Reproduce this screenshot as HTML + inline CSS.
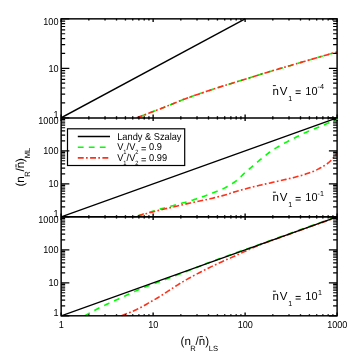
<!DOCTYPE html><html><head><meta charset="utf-8"><style>html,body{margin:0;padding:0;background:#fff}svg{display:block;will-change:transform;text-rendering:geometricPrecision}</style></head><body><svg width="355" height="355" viewBox="0 0 355 355" font-family="'Liberation Sans', sans-serif" fill="#000">
<rect x="0" y="0" width="355" height="355" fill="#fff"/>
<defs>
<clipPath id="c0"><rect x="61.15" y="18.05" width="275.95000000000005" height="100.55"/></clipPath>
<clipPath id="c1"><rect x="61.15" y="117.0" width="275.95000000000005" height="100.60000000000002"/></clipPath>
<clipPath id="c2"><rect x="61.15" y="216.0" width="275.95000000000005" height="100.60000000000002"/></clipPath>
</defs>
<path d="M136.80,117.70 L137.27,117.53 L137.82,117.33 L138.46,117.10 L139.17,116.85 L139.95,116.57 L140.79,116.26 L141.70,115.93 L142.66,115.59 L143.66,115.22 L144.71,114.83 L145.79,114.42 L146.90,114.00 L148.06,113.56 L149.27,113.09 L150.55,112.60 L151.87,112.09 L153.24,111.55 L154.66,111.00 L156.11,110.43 L157.60,109.85 L159.11,109.25 L160.66,108.64 L162.22,108.03 L163.80,107.40 L165.42,106.75 L167.10,106.08 L168.83,105.37 L170.59,104.65 L172.39,103.92 L174.21,103.18 L176.03,102.43 L177.86,101.69 L179.68,100.96 L181.49,100.25 L183.26,99.56 L185.00,98.90 L186.71,98.26 L188.40,97.64 L190.07,97.04 L191.73,96.44 L193.39,95.86 L195.04,95.29 L196.68,94.72 L198.33,94.16 L199.99,93.59 L201.65,93.03 L203.32,92.47 L205.00,91.90 L206.70,91.33 L208.41,90.76 L210.14,90.19 L211.87,89.62 L213.60,89.05 L215.34,88.49 L217.07,87.93 L218.80,87.37 L220.52,86.82 L222.23,86.27 L223.92,85.73 L225.60,85.20 L227.26,84.68 L228.90,84.16 L230.52,83.66 L232.13,83.16 L233.74,82.66 L235.34,82.17 L236.93,81.68 L238.53,81.19 L240.14,80.70 L241.75,80.20 L243.37,79.70 L245.00,79.20 L246.63,78.69 L248.23,78.19 L249.82,77.70 L251.41,77.20 L253.00,76.70 L254.60,76.20 L256.23,75.69 L257.88,75.18 L259.58,74.65 L261.32,74.12 L263.13,73.57 L265.00,73.00 L266.95,72.41 L268.98,71.81 L271.08,71.19 L273.23,70.55 L275.42,69.91 L277.64,69.26 L279.87,68.60 L282.10,67.95 L284.33,67.30 L286.53,66.65 L288.69,66.02 L290.80,65.40 L292.88,64.79 L294.95,64.18 L297.01,63.57 L299.06,62.97 L301.10,62.37 L303.13,61.78 L305.14,61.18 L307.14,60.60 L309.13,60.01 L311.10,59.44 L313.06,58.87 L315.00,58.30 L316.99,57.72 L319.07,57.12 L321.21,56.50 L323.37,55.88 L325.52,55.26 L327.61,54.66 L329.63,54.08 L331.52,53.53 L333.26,53.03 L334.81,52.59 L336.13,52.21 L337.20,51.90" fill="none" stroke="#00ff00" stroke-width="1.6" stroke-dasharray="5.4 4.95" stroke-dashoffset="6.0" clip-path="url(#c0)"/>
<path d="M136.80,117.70 L137.27,117.53 L137.82,117.33 L138.46,117.10 L139.17,116.85 L139.95,116.57 L140.79,116.26 L141.70,115.93 L142.66,115.59 L143.66,115.22 L144.71,114.83 L145.79,114.42 L146.90,114.00 L148.06,113.56 L149.27,113.09 L150.55,112.60 L151.87,112.09 L153.24,111.55 L154.66,111.00 L156.11,110.43 L157.60,109.85 L159.11,109.25 L160.66,108.64 L162.22,108.03 L163.80,107.40 L165.42,106.75 L167.10,106.08 L168.83,105.37 L170.59,104.65 L172.39,103.92 L174.21,103.18 L176.03,102.43 L177.86,101.69 L179.68,100.96 L181.49,100.25 L183.26,99.56 L185.00,98.90 L186.71,98.26 L188.40,97.64 L190.07,97.04 L191.73,96.44 L193.39,95.86 L195.04,95.29 L196.68,94.72 L198.33,94.16 L199.99,93.59 L201.65,93.03 L203.32,92.47 L205.00,91.90 L206.70,91.33 L208.41,90.76 L210.14,90.19 L211.87,89.62 L213.60,89.05 L215.34,88.49 L217.07,87.93 L218.80,87.37 L220.52,86.82 L222.23,86.27 L223.92,85.73 L225.60,85.20 L227.26,84.68 L228.90,84.16 L230.52,83.66 L232.13,83.16 L233.74,82.66 L235.34,82.17 L236.93,81.68 L238.53,81.19 L240.14,80.70 L241.75,80.20 L243.37,79.70 L245.00,79.20 L246.63,78.69 L248.23,78.19 L249.82,77.70 L251.41,77.20 L253.00,76.70 L254.60,76.20 L256.23,75.69 L257.88,75.18 L259.58,74.65 L261.32,74.12 L263.13,73.57 L265.00,73.00 L266.95,72.41 L268.98,71.81 L271.08,71.19 L273.23,70.55 L275.42,69.91 L277.64,69.26 L279.87,68.60 L282.10,67.95 L284.33,67.30 L286.53,66.65 L288.69,66.02 L290.80,65.40 L292.88,64.79 L294.95,64.18 L297.01,63.57 L299.06,62.97 L301.10,62.37 L303.13,61.78 L305.14,61.18 L307.14,60.60 L309.13,60.01 L311.10,59.44 L313.06,58.87 L315.00,58.30 L316.99,57.72 L319.07,57.12 L321.21,56.50 L323.37,55.88 L325.52,55.26 L327.61,54.66 L329.63,54.08 L331.52,53.53 L333.26,53.03 L334.81,52.59 L336.13,52.21 L337.20,51.90" fill="none" stroke="#ff3018" stroke-width="1.6" stroke-dasharray="5.9 2.3 1.7 2.4" stroke-dashoffset="0" clip-path="url(#c0)"/>
<path d="M61.15,117.80 L245.12,18.85" fill="none" stroke="#000" stroke-width="1.35" clip-path="url(#c0)"/>
<path d="M134.30,216.80 L135.48,216.45 L136.95,216.00 L138.66,215.48 L140.59,214.90 L142.69,214.27 L144.91,213.59 L147.23,212.90 L149.60,212.19 L151.98,211.48 L154.33,210.79 L156.62,210.12 L158.80,209.50 L160.98,208.89 L163.26,208.26 L165.61,207.62 L168.01,206.97 L170.42,206.32 L172.81,205.69 L175.15,205.06 L177.40,204.46 L179.55,203.89 L181.55,203.35 L183.38,202.85 L185.00,202.40 L186.38,202.01 L187.55,201.68 L188.52,201.40 L189.35,201.15 L190.06,200.94 L190.70,200.74 L191.30,200.55 L191.90,200.35 L192.53,200.14 L193.23,199.90 L194.04,199.62 L195.00,199.30 L196.07,198.94 L197.21,198.55 L198.40,198.15 L199.63,197.73 L200.90,197.29 L202.19,196.84 L203.50,196.38 L204.81,195.91 L206.13,195.44 L207.44,194.96 L208.73,194.48 L210.00,194.00 L211.26,193.52 L212.54,193.03 L213.82,192.54 L215.12,192.04 L216.41,191.54 L217.70,191.03 L218.98,190.51 L220.24,189.99 L221.47,189.46 L222.69,188.91 L223.86,188.36 L225.00,187.80 L226.11,187.22 L227.20,186.63 L228.28,186.03 L229.33,185.41 L230.37,184.78 L231.37,184.15 L232.36,183.52 L233.31,182.88 L234.23,182.25 L235.12,181.62 L235.98,181.01 L236.80,180.40 L237.57,179.81 L238.27,179.22 L238.92,178.64 L239.53,178.07 L240.11,177.50 L240.67,176.93 L241.22,176.35 L241.77,175.78 L242.33,175.20 L242.92,174.61 L243.54,174.01 L244.20,173.40 L244.90,172.78 L245.62,172.15 L246.35,171.51 L247.10,170.86 L247.87,170.21 L248.64,169.55 L249.42,168.89 L250.20,168.23 L250.98,167.57 L251.76,166.91 L252.53,166.25 L253.30,165.60 L254.06,164.95 L254.83,164.29 L255.60,163.63 L256.36,162.97 L257.13,162.31 L257.90,161.65 L258.67,160.99 L259.44,160.34 L260.20,159.69 L260.97,159.05 L261.74,158.42 L262.50,157.80 L263.26,157.18 L264.02,156.57 L264.78,155.96 L265.54,155.36 L266.29,154.76 L267.05,154.16 L267.81,153.58 L268.56,153.00 L269.32,152.43 L270.08,151.88 L270.84,151.33 L271.60,150.80 L272.36,150.28 L273.13,149.78 L273.90,149.29 L274.66,148.80 L275.43,148.33 L276.20,147.87 L276.97,147.41 L277.74,146.96 L278.50,146.52 L279.27,146.08 L280.04,145.64 L280.80,145.20 L281.54,144.78 L282.26,144.37 L282.95,143.98 L283.63,143.61 L284.31,143.24 L285.00,142.86 L285.71,142.48 L286.45,142.09 L287.23,141.68 L288.05,141.25 L288.94,140.79 L289.90,140.30 L290.94,139.76 L292.08,139.18 L293.28,138.56 L294.54,137.92 L295.84,137.26 L297.16,136.59 L298.49,135.92 L299.81,135.26 L301.11,134.62 L302.37,134.01 L303.57,133.43 L304.70,132.90 L305.77,132.41 L306.82,131.95 L307.84,131.51 L308.83,131.09 L309.80,130.69 L310.75,130.31 L311.67,129.94 L312.58,129.58 L313.46,129.23 L314.32,128.88 L315.17,128.54 L316.00,128.20 L316.81,127.86 L317.59,127.54 L318.36,127.22 L319.10,126.91 L319.82,126.62 L320.53,126.32 L321.21,126.04 L321.88,125.76 L322.53,125.49 L323.17,125.22 L323.79,124.96 L324.40,124.70 L324.99,124.45 L325.54,124.21 L326.07,123.98 L326.58,123.76 L327.07,123.55 L327.56,123.34 L328.03,123.13 L328.51,122.91 L328.99,122.70 L329.48,122.48 L329.98,122.24 L330.50,122.00 L331.06,121.74 L331.66,121.45 L332.29,121.14 L332.94,120.82 L333.59,120.50 L334.23,120.18 L334.85,119.87 L335.44,119.58 L335.98,119.31 L336.46,119.07 L336.87,118.86 L337.20,118.70" fill="none" stroke="#00ff00" stroke-width="1.6" stroke-dasharray="5.8 5.2" stroke-dashoffset="-4.5" clip-path="url(#c1)"/>
<path d="M134.30,216.80 L135.48,216.49 L136.95,216.10 L138.66,215.65 L140.59,215.13 L142.69,214.58 L144.91,213.99 L147.23,213.38 L149.60,212.76 L151.98,212.14 L154.33,211.53 L156.62,210.95 L158.80,210.40 L160.98,209.86 L163.26,209.31 L165.61,208.74 L168.01,208.17 L170.42,207.60 L172.81,207.04 L175.15,206.49 L177.40,205.96 L179.55,205.46 L181.55,205.00 L183.38,204.58 L185.00,204.20 L186.38,203.88 L187.55,203.61 L188.52,203.39 L189.35,203.21 L190.06,203.05 L190.70,202.91 L191.30,202.79 L191.90,202.66 L192.53,202.53 L193.23,202.38 L194.04,202.21 L195.00,202.00 L196.07,201.77 L197.21,201.53 L198.40,201.28 L199.63,201.03 L200.90,200.77 L202.19,200.50 L203.50,200.23 L204.81,199.95 L206.13,199.67 L207.44,199.38 L208.73,199.09 L210.00,198.80 L211.27,198.50 L212.56,198.19 L213.87,197.88 L215.19,197.56 L216.50,197.23 L217.81,196.90 L219.10,196.57 L220.37,196.24 L221.60,195.92 L222.79,195.61 L223.93,195.30 L225.00,195.00 L225.98,194.72 L226.86,194.45 L227.66,194.20 L228.40,193.96 L229.10,193.72 L229.79,193.47 L230.50,193.23 L231.24,192.98 L232.03,192.71 L232.91,192.43 L233.89,192.13 L235.00,191.80 L236.23,191.44 L237.57,191.06 L238.99,190.66 L240.49,190.24 L242.04,189.80 L243.63,189.36 L245.25,188.92 L246.89,188.47 L248.53,188.04 L250.15,187.61 L251.75,187.19 L253.30,186.80 L254.84,186.42 L256.41,186.04 L257.99,185.67 L259.58,185.30 L261.17,184.93 L262.76,184.58 L264.32,184.22 L265.86,183.88 L267.37,183.55 L268.83,183.22 L270.25,182.91 L271.60,182.60 L272.90,182.31 L274.16,182.02 L275.38,181.75 L276.56,181.49 L277.71,181.23 L278.83,180.99 L279.91,180.75 L280.97,180.51 L282.01,180.28 L283.03,180.05 L284.02,179.83 L285.00,179.60 L285.95,179.38 L286.85,179.17 L287.72,178.97 L288.56,178.77 L289.38,178.58 L290.17,178.39 L290.96,178.20 L291.74,178.01 L292.51,177.81 L293.30,177.62 L294.09,177.41 L294.90,177.20 L295.72,176.98 L296.54,176.77 L297.35,176.55 L298.17,176.33 L298.99,176.10 L299.80,175.87 L300.61,175.64 L301.43,175.41 L302.25,175.17 L303.06,174.92 L303.88,174.66 L304.70,174.40 L305.52,174.13 L306.35,173.86 L307.17,173.59 L308.00,173.32 L308.82,173.04 L309.65,172.75 L310.48,172.45 L311.30,172.15 L312.13,171.83 L312.95,171.50 L313.78,171.16 L314.60,170.80 L315.43,170.42 L316.28,170.02 L317.15,169.60 L318.01,169.16 L318.88,168.72 L319.74,168.26 L320.59,167.81 L321.42,167.35 L322.22,166.90 L322.99,166.45 L323.72,166.02 L324.40,165.60 L325.04,165.20 L325.64,164.80 L326.22,164.40 L326.76,164.01 L327.28,163.63 L327.77,163.25 L328.24,162.87 L328.70,162.50 L329.14,162.12 L329.57,161.75 L329.99,161.37 L330.40,161.00 L330.80,160.63 L331.18,160.25 L331.55,159.88 L331.89,159.51 L332.22,159.14 L332.54,158.78 L332.85,158.41 L333.15,158.04 L333.44,157.68 L333.73,157.32 L334.02,156.96 L334.30,156.60 L334.59,156.23 L334.87,155.84 L335.16,155.44 L335.45,155.03 L335.73,154.62 L335.99,154.22 L336.25,153.84 L336.49,153.48 L336.70,153.15 L336.90,152.85 L337.06,152.60 L337.20,152.40" fill="none" stroke="#ff3018" stroke-width="1.6" stroke-dasharray="5.9 2.3 1.7 2.4" stroke-dashoffset="-3.4" clip-path="url(#c1)"/>
<path d="M61.15,216.80 L337.10,117.80" fill="none" stroke="#000" stroke-width="1.35" clip-path="url(#c1)"/>
<path d="M84.70,315.80 L85.41,315.41 L86.29,314.92 L87.32,314.35 L88.48,313.70 L89.74,313.00 L91.08,312.26 L92.47,311.49 L93.89,310.71 L95.32,309.94 L96.73,309.19 L98.10,308.47 L99.40,307.80 L100.65,307.18 L101.87,306.58 L103.08,306.00 L104.28,305.43 L105.49,304.86 L106.71,304.29 L107.97,303.72 L109.26,303.13 L110.59,302.52 L111.99,301.88 L113.46,301.21 L115.00,300.50 L116.67,299.73 L118.47,298.90 L120.37,298.01 L122.36,297.09 L124.39,296.15 L126.44,295.21 L128.48,294.27 L130.49,293.35 L132.42,292.47 L134.25,291.64 L135.95,290.88 L137.50,290.20 L138.90,289.59 L140.19,289.05 L141.38,288.55 L142.50,288.10 L143.54,287.68 L144.53,287.29 L145.47,286.93 L146.38,286.58 L147.28,286.24 L148.17,285.90 L149.07,285.56 L150.00,285.20 L150.93,284.84 L151.82,284.50 L152.70,284.16 L153.55,283.84 L154.39,283.53 L155.21,283.22 L156.03,282.92 L156.84,282.61 L157.65,282.31 L158.46,282.01 L159.27,281.71 L160.10,281.40 L160.93,281.09 L161.76,280.78 L162.59,280.47 L163.41,280.16 L164.23,279.86 L165.06,279.55 L165.88,279.24 L166.70,278.94 L167.52,278.63 L168.35,278.32 L169.17,278.01 L170.00,277.70 L170.83,277.39 L171.66,277.07 L172.49,276.76 L173.33,276.44 L174.16,276.13 L174.99,275.81 L175.83,275.49 L176.66,275.17 L177.50,274.85 L178.33,274.54 L179.17,274.22 L180.00,273.90 L180.83,273.58 L181.67,273.26 L182.50,272.95 L183.33,272.63 L184.17,272.31 L185.00,271.99 L185.83,271.67 L186.67,271.35 L187.50,271.04 L188.33,270.72 L189.17,270.39 L190.00,270.07 L190.82,269.76 L191.61,269.45 L192.38,269.15 L193.15,268.85 L193.91,268.55 L194.69,268.25 L195.48,267.94 L196.30,267.62 L197.15,267.29 L198.04,266.94 L198.99,266.58 L200.00,266.19 L200.73,265.89 L200.97,265.77 L200.89,265.77 L200.66,265.81 L200.47,265.84 L200.49,265.79 L200.90,265.61 L201.87,265.22 L203.60,264.57 L206.24,263.59 L209.98,262.23 L215.00,260.40 L221.82,257.94 L230.58,254.79 L240.88,251.09 L252.32,246.98 L264.50,242.61 L277.04,238.12 L289.52,233.64 L301.55,229.33 L312.73,225.32 L322.66,221.76 L330.95,218.79 L337.20,216.55" fill="none" stroke="#00ff00" stroke-width="1.6" stroke-dasharray="5.8 5.2" stroke-dashoffset="0" clip-path="url(#c2)"/>
<path d="M121.50,315.80 L122.29,315.47 L123.30,315.07 L124.49,314.58 L125.82,314.04 L127.27,313.46 L128.79,312.84 L130.36,312.20 L131.92,311.54 L133.46,310.90 L134.92,310.27 L136.28,309.66 L137.50,309.10 L138.61,308.57 L139.66,308.04 L140.66,307.52 L141.61,307.01 L142.54,306.50 L143.44,305.99 L144.33,305.49 L145.21,304.98 L146.09,304.47 L146.97,303.95 L147.87,303.43 L148.80,302.90 L149.74,302.37 L150.68,301.83 L151.63,301.29 L152.57,300.76 L153.51,300.21 L154.46,299.67 L155.40,299.12 L156.34,298.57 L157.28,298.01 L158.22,297.45 L159.16,296.88 L160.10,296.30 L161.04,295.72 L161.97,295.12 L162.90,294.52 L163.84,293.91 L164.77,293.30 L165.70,292.68 L166.63,292.06 L167.56,291.44 L168.50,290.83 L169.43,290.21 L170.36,289.60 L171.30,289.00 L172.23,288.40 L173.16,287.80 L174.09,287.21 L175.02,286.61 L175.95,286.02 L176.88,285.42 L177.81,284.83 L178.75,284.24 L179.70,283.66 L180.65,283.07 L181.62,282.48 L182.60,281.90 L183.58,281.32 L184.54,280.76 L185.50,280.21 L186.46,279.66 L187.43,279.11 L188.41,278.56 L189.42,278.01 L190.45,277.44 L191.52,276.86 L192.63,276.26 L193.78,275.64 L195.00,275.00 L196.26,274.33 L197.56,273.65 L198.90,272.95 L200.27,272.23 L201.68,271.50 L203.12,270.76 L204.60,270.00 L206.11,269.24 L207.65,268.46 L209.23,267.68 L210.85,266.89 L212.50,266.10 L214.20,265.30 L215.96,264.47 L217.77,263.64 L219.63,262.79 L221.52,261.94 L223.43,261.08 L225.36,260.21 L227.31,259.34 L229.25,258.47 L231.19,257.61 L233.11,256.75 L235.00,255.90 L236.90,255.04 L238.82,254.17 L240.76,253.28 L242.72,252.39 L244.67,251.50 L246.62,250.61 L248.55,249.74 L250.45,248.89 L252.31,248.06 L254.13,247.27 L255.90,246.51 L257.60,245.80 L259.09,245.19 L260.28,244.70 L261.27,244.31 L262.13,243.97 L262.95,243.67 L263.83,243.35 L264.84,242.99 L266.07,242.56 L267.62,242.01 L269.57,241.32 L272.00,240.46 L275.00,239.38 L278.81,238.01 L283.49,236.33 L288.86,234.40 L294.72,232.30 L300.89,230.09 L307.19,227.84 L313.42,225.61 L319.41,223.46 L324.97,221.47 L329.91,219.71 L334.05,218.23 L337.20,217.10" fill="none" stroke="#ff3018" stroke-width="1.6" stroke-dasharray="5.9 2.3 1.7 2.4" stroke-dashoffset="0" clip-path="url(#c2)"/>
<path d="M61.15,315.80 L337.10,216.80" fill="none" stroke="#000" stroke-width="1.35" clip-path="url(#c2)"/>
<path d="M61.15,117.80h8.2 M337.1,117.80h-8.2 M61.15,102.91h4.0 M337.1,102.91h-4.0 M61.15,94.19h4.0 M337.1,94.19h-4.0 M61.15,88.01h4.0 M337.1,88.01h-4.0 M61.15,83.22h4.0 M337.1,83.22h-4.0 M61.15,79.30h4.0 M337.1,79.30h-4.0 M61.15,75.99h4.0 M337.1,75.99h-4.0 M61.15,73.12h4.0 M337.1,73.12h-4.0 M61.15,70.59h4.0 M337.1,70.59h-4.0 M61.15,68.33h8.2 M337.1,68.33h-8.2 M61.15,53.43h4.0 M337.1,53.43h-4.0 M61.15,44.72h4.0 M337.1,44.72h-4.0 M61.15,38.54h4.0 M337.1,38.54h-4.0 M61.15,33.74h4.0 M337.1,33.74h-4.0 M61.15,29.83h4.0 M337.1,29.83h-4.0 M61.15,26.51h4.0 M337.1,26.51h-4.0 M61.15,23.64h4.0 M337.1,23.64h-4.0 M61.15,21.11h4.0 M337.1,21.11h-4.0 M61.15,18.85h8.2 M337.1,18.85h-8.2 M61.15,216.80h8.2 M337.1,216.80h-8.2 M61.15,206.87h4.0 M337.1,206.87h-4.0 M61.15,201.05h4.0 M337.1,201.05h-4.0 M61.15,196.93h4.0 M337.1,196.93h-4.0 M61.15,193.73h4.0 M337.1,193.73h-4.0 M61.15,191.12h4.0 M337.1,191.12h-4.0 M61.15,188.91h4.0 M337.1,188.91h-4.0 M61.15,187.00h4.0 M337.1,187.00h-4.0 M61.15,185.31h4.0 M337.1,185.31h-4.0 M61.15,183.80h8.2 M337.1,183.80h-8.2 M61.15,173.87h4.0 M337.1,173.87h-4.0 M61.15,168.05h4.0 M337.1,168.05h-4.0 M61.15,163.93h4.0 M337.1,163.93h-4.0 M61.15,160.73h4.0 M337.1,160.73h-4.0 M61.15,158.12h4.0 M337.1,158.12h-4.0 M61.15,155.91h4.0 M337.1,155.91h-4.0 M61.15,154.00h4.0 M337.1,154.00h-4.0 M61.15,152.31h4.0 M337.1,152.31h-4.0 M61.15,150.80h8.2 M337.1,150.80h-8.2 M61.15,140.87h4.0 M337.1,140.87h-4.0 M61.15,135.05h4.0 M337.1,135.05h-4.0 M61.15,130.93h4.0 M337.1,130.93h-4.0 M61.15,127.73h4.0 M337.1,127.73h-4.0 M61.15,125.12h4.0 M337.1,125.12h-4.0 M61.15,122.91h4.0 M337.1,122.91h-4.0 M61.15,121.00h4.0 M337.1,121.00h-4.0 M61.15,119.31h4.0 M337.1,119.31h-4.0 M61.15,117.80h8.2 M337.1,117.80h-8.2 M61.15,315.80h8.2 M337.1,315.80h-8.2 M61.15,305.87h4.0 M337.1,305.87h-4.0 M61.15,300.05h4.0 M337.1,300.05h-4.0 M61.15,295.93h4.0 M337.1,295.93h-4.0 M61.15,292.73h4.0 M337.1,292.73h-4.0 M61.15,290.12h4.0 M337.1,290.12h-4.0 M61.15,287.91h4.0 M337.1,287.91h-4.0 M61.15,286.00h4.0 M337.1,286.00h-4.0 M61.15,284.31h4.0 M337.1,284.31h-4.0 M61.15,282.80h8.2 M337.1,282.80h-8.2 M61.15,272.87h4.0 M337.1,272.87h-4.0 M61.15,267.05h4.0 M337.1,267.05h-4.0 M61.15,262.93h4.0 M337.1,262.93h-4.0 M61.15,259.73h4.0 M337.1,259.73h-4.0 M61.15,257.12h4.0 M337.1,257.12h-4.0 M61.15,254.91h4.0 M337.1,254.91h-4.0 M61.15,253.00h4.0 M337.1,253.00h-4.0 M61.15,251.31h4.0 M337.1,251.31h-4.0 M61.15,249.80h8.2 M337.1,249.80h-8.2 M61.15,239.87h4.0 M337.1,239.87h-4.0 M61.15,234.05h4.0 M337.1,234.05h-4.0 M61.15,229.93h4.0 M337.1,229.93h-4.0 M61.15,226.73h4.0 M337.1,226.73h-4.0 M61.15,224.12h4.0 M337.1,224.12h-4.0 M61.15,221.91h4.0 M337.1,221.91h-4.0 M61.15,220.00h4.0 M337.1,220.00h-4.0 M61.15,218.31h4.0 M337.1,218.31h-4.0 M61.15,216.80h8.2 M337.1,216.80h-8.2" stroke="#000" stroke-width="1.2" fill="none"/>
<path d="M61.15,117.8v-3.2 M61.15,18.85v3.2 M88.84,117.8v-1.6 M88.84,18.85v1.6 M105.04,117.8v-1.6 M105.04,18.85v1.6 M116.53,117.8v-1.6 M116.53,18.85v1.6 M125.44,117.8v-1.6 M125.44,18.85v1.6 M132.73,117.8v-1.6 M132.73,18.85v1.6 M138.88,117.8v-1.6 M138.88,18.85v1.6 M144.22,117.8v-1.6 M144.22,18.85v1.6 M148.92,117.8v-1.6 M148.92,18.85v1.6 M153.13,117.8v-3.2 M153.13,18.85v3.2 M180.82,117.8v-1.6 M180.82,18.85v1.6 M197.02,117.8v-1.6 M197.02,18.85v1.6 M208.51,117.8v-1.6 M208.51,18.85v1.6 M217.43,117.8v-1.6 M217.43,18.85v1.6 M224.71,117.8v-1.6 M224.71,18.85v1.6 M230.87,117.8v-1.6 M230.87,18.85v1.6 M236.20,117.8v-1.6 M236.20,18.85v1.6 M240.91,117.8v-1.6 M240.91,18.85v1.6 M245.12,117.8v-3.2 M245.12,18.85v3.2 M272.81,117.8v-1.6 M272.81,18.85v1.6 M289.00,117.8v-1.6 M289.00,18.85v1.6 M300.50,117.8v-1.6 M300.50,18.85v1.6 M309.41,117.8v-1.6 M309.41,18.85v1.6 M316.69,117.8v-1.6 M316.69,18.85v1.6 M322.85,117.8v-1.6 M322.85,18.85v1.6 M328.19,117.8v-1.6 M328.19,18.85v1.6 M332.89,117.8v-1.6 M332.89,18.85v1.6 M337.10,117.8v-3.2 M337.10,18.85v3.2 M61.15,216.8v-3.2 M61.15,117.8v3.2 M88.84,216.8v-1.6 M88.84,117.8v1.6 M105.04,216.8v-1.6 M105.04,117.8v1.6 M116.53,216.8v-1.6 M116.53,117.8v1.6 M125.44,216.8v-1.6 M125.44,117.8v1.6 M132.73,216.8v-1.6 M132.73,117.8v1.6 M138.88,216.8v-1.6 M138.88,117.8v1.6 M144.22,216.8v-1.6 M144.22,117.8v1.6 M148.92,216.8v-1.6 M148.92,117.8v1.6 M153.13,216.8v-3.2 M153.13,117.8v3.2 M180.82,216.8v-1.6 M180.82,117.8v1.6 M197.02,216.8v-1.6 M197.02,117.8v1.6 M208.51,216.8v-1.6 M208.51,117.8v1.6 M217.43,216.8v-1.6 M217.43,117.8v1.6 M224.71,216.8v-1.6 M224.71,117.8v1.6 M230.87,216.8v-1.6 M230.87,117.8v1.6 M236.20,216.8v-1.6 M236.20,117.8v1.6 M240.91,216.8v-1.6 M240.91,117.8v1.6 M245.12,216.8v-3.2 M245.12,117.8v3.2 M272.81,216.8v-1.6 M272.81,117.8v1.6 M289.00,216.8v-1.6 M289.00,117.8v1.6 M300.50,216.8v-1.6 M300.50,117.8v1.6 M309.41,216.8v-1.6 M309.41,117.8v1.6 M316.69,216.8v-1.6 M316.69,117.8v1.6 M322.85,216.8v-1.6 M322.85,117.8v1.6 M328.19,216.8v-1.6 M328.19,117.8v1.6 M332.89,216.8v-1.6 M332.89,117.8v1.6 M337.10,216.8v-3.2 M337.10,117.8v3.2 M61.15,315.8v-3.2 M61.15,216.8v3.2 M88.84,315.8v-1.6 M88.84,216.8v1.6 M105.04,315.8v-1.6 M105.04,216.8v1.6 M116.53,315.8v-1.6 M116.53,216.8v1.6 M125.44,315.8v-1.6 M125.44,216.8v1.6 M132.73,315.8v-1.6 M132.73,216.8v1.6 M138.88,315.8v-1.6 M138.88,216.8v1.6 M144.22,315.8v-1.6 M144.22,216.8v1.6 M148.92,315.8v-1.6 M148.92,216.8v1.6 M153.13,315.8v-3.2 M153.13,216.8v3.2 M180.82,315.8v-1.6 M180.82,216.8v1.6 M197.02,315.8v-1.6 M197.02,216.8v1.6 M208.51,315.8v-1.6 M208.51,216.8v1.6 M217.43,315.8v-1.6 M217.43,216.8v1.6 M224.71,315.8v-1.6 M224.71,216.8v1.6 M230.87,315.8v-1.6 M230.87,216.8v1.6 M236.20,315.8v-1.6 M236.20,216.8v1.6 M240.91,315.8v-1.6 M240.91,216.8v1.6 M245.12,315.8v-3.2 M245.12,216.8v3.2 M272.81,315.8v-1.6 M272.81,216.8v1.6 M289.00,315.8v-1.6 M289.00,216.8v1.6 M300.50,315.8v-1.6 M300.50,216.8v1.6 M309.41,315.8v-1.6 M309.41,216.8v1.6 M316.69,315.8v-1.6 M316.69,216.8v1.6 M322.85,315.8v-1.6 M322.85,216.8v1.6 M328.19,315.8v-1.6 M328.19,216.8v1.6 M332.89,315.8v-1.6 M332.89,216.8v1.6 M337.10,315.8v-3.2 M337.10,216.8v3.2" stroke="#000" stroke-width="1.35" fill="none"/>
<rect x="61.15" y="18.85" width="275.95000000000005" height="296.95" fill="none" stroke="#000" stroke-width="1.45"/>
<path d="M61.15,117.95H337.1M61.15,216.9H337.1" stroke="#000" stroke-width="1.6" fill="none"/>
<rect x="336.3" y="118.7" width="1.6" height="1.2" fill="#00ff00"/>
<text transform="translate(58.5,25.45) scale(0.97,1.07)" font-size="9.4" text-anchor="end">100</text>
<text transform="translate(58.5,71.83) scale(0.97,1.07)" font-size="9.4" text-anchor="end">10</text>
<text transform="translate(58.5,118.10) scale(0.97,1.07)" font-size="9.4" text-anchor="end">1</text>
<text transform="translate(58.5,124.20) scale(0.97,1.07)" font-size="9.4" text-anchor="end">1000</text>
<text transform="translate(58.5,154.30) scale(0.97,1.07)" font-size="9.4" text-anchor="end">100</text>
<text transform="translate(58.5,187.30) scale(0.97,1.07)" font-size="9.4" text-anchor="end">10</text>
<text transform="translate(58.5,217.10) scale(0.97,1.07)" font-size="9.4" text-anchor="end">1</text>
<text transform="translate(58.5,223.20) scale(0.97,1.07)" font-size="9.4" text-anchor="end">1000</text>
<text transform="translate(58.5,253.30) scale(0.97,1.07)" font-size="9.4" text-anchor="end">100</text>
<text transform="translate(58.5,286.30) scale(0.97,1.07)" font-size="9.4" text-anchor="end">10</text>
<text transform="translate(58.5,316.10) scale(0.97,1.07)" font-size="9.4" text-anchor="end">1</text>
<text transform="translate(61.35,328.1) scale(0.97,1.07)" font-size="9.4" text-anchor="middle">1</text>
<text transform="translate(153.33,328.1) scale(0.97,1.07)" font-size="9.4" text-anchor="middle">10</text>
<text transform="translate(245.32,328.1) scale(0.97,1.07)" font-size="9.4" text-anchor="middle">100</text>
<text transform="translate(337.30,328.1) scale(0.97,1.07)" font-size="9.4" text-anchor="middle">1000</text>
<rect x="67.5" y="128.8" width="117.2" height="36.7" fill="none" stroke="#000" stroke-width="1.2"/>
<path d="M77.8,136.5H110" stroke="#000" stroke-width="1.6"/>
<path d="M77.8,147.3H110" stroke="#00ff00" stroke-width="1.6" stroke-dasharray="5.8 5.2"/>
<path d="M77.8,157.9H110" stroke="#ff3018" stroke-width="1.6" stroke-dasharray="5.9 2.3 1.7 2.4"/>
<text transform="translate(117.2,139.7) scale(0.925,1)" font-size="10">Landy &amp; Szalay</text>
<text transform="translate(117.2,150.4) scale(0.925,1)" font-size="10">V<tspan font-size="6.2" dy="3.6">1</tspan><tspan dy="-3.6">/V</tspan><tspan font-size="6.2" dy="3.6">2</tspan><tspan dy="-2.3"> =</tspan><tspan dy="-1.3"> 0.9</tspan></text>
<text transform="translate(117.2,161.2) scale(0.925,1)" font-size="10">V<tspan font-size="6.2" dy="3.6">1</tspan><tspan dy="-3.6">/V</tspan><tspan font-size="6.2" dy="3.6">2</tspan><tspan dy="-2.3"> =</tspan><tspan dy="-1.3"> 0.99</tspan></text>
<g font-size="11.5">
<text x="272.4" y="94.60">n</text>
<text x="279.8" y="94.60">V</text>
<text x="288.2" y="100.60" font-size="7.2">1</text>
<path d="M295.6,90.85h5.1M295.6,93.45h5.1" stroke="#000" stroke-width="0.95"/>
<text transform="translate(305.3,94.60) scale(0.95,1)">10</text>
<text x="317.5" y="89.40" font-size="7.2">-4</text>
</g>
<path d="M272.9,85.60h3" stroke="#000" stroke-width="0.9"/>
<g font-size="11.5">
<text x="272.4" y="201.20">n</text>
<text x="279.8" y="201.20">V</text>
<text x="288.2" y="207.20" font-size="7.2">1</text>
<path d="M295.6,197.45h5.1M295.6,200.05h5.1" stroke="#000" stroke-width="0.95"/>
<text transform="translate(305.3,201.20) scale(0.95,1)">10</text>
<text x="317.5" y="196.00" font-size="7.2">-1</text>
</g>
<path d="M272.9,192.20h3" stroke="#000" stroke-width="0.9"/>
<g font-size="11.5">
<text x="272.4" y="300.20">n</text>
<text x="279.8" y="300.20">V</text>
<text x="288.2" y="306.20" font-size="7.2">1</text>
<path d="M295.6,296.45h5.1M295.6,299.05h5.1" stroke="#000" stroke-width="0.95"/>
<text transform="translate(305.3,300.20) scale(0.95,1)">10</text>
<text x="318.0" y="295.00" font-size="7.2">1</text>
</g>
<path d="M272.9,291.20h3" stroke="#000" stroke-width="0.9"/>
<g transform="translate(199.3,345)"><text x="-18.77" y="0" font-size="11.6">(n</text><text x="-8.95" y="5.5" font-size="7.6">R</text><text x="-3.77" y="0" font-size="11.6">/n)</text><text x="9.47" y="5.5" font-size="7.6">L</text><text x="13.70" y="5.5" font-size="7.6">S</text><path d="M0.36,-8.4h3.2" stroke="#000" stroke-width="0.9"/></g>
<g transform="translate(24.4,167.2) rotate(-90)"><text x="-19.40" y="0" font-size="11.6">(n</text><text x="-9.58" y="5.5" font-size="7.6">R</text><text x="-4.40" y="0" font-size="11.6">/n)</text><text x="8.84" y="5.5" font-size="7.6">M</text><text x="15.17" y="5.5" font-size="7.6">L</text><path d="M-0.27,-8.4h3.2" stroke="#000" stroke-width="0.9"/></g>
</svg></body></html>
